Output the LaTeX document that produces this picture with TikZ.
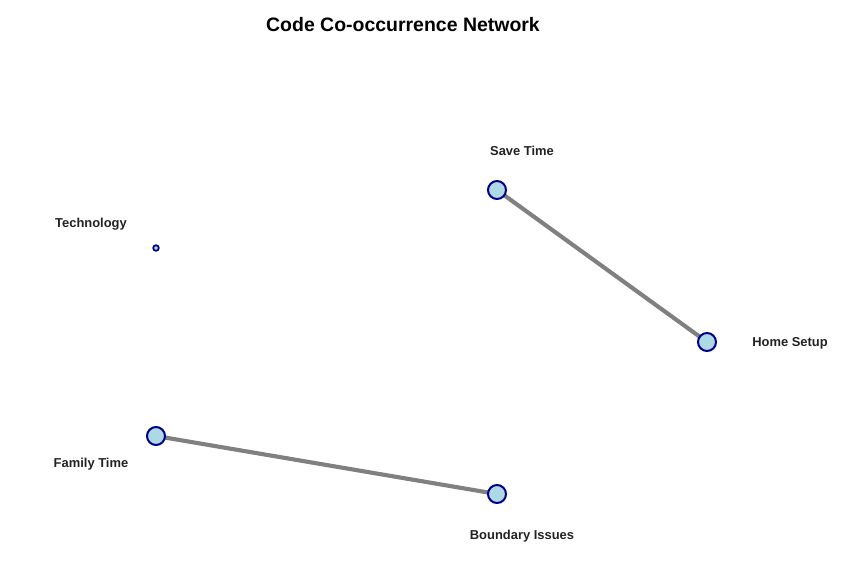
\documentclass[tikz,border=0pt]{standalone}
\usepackage{fontspec}
\setmainfont{Liberation Sans}
\usetikzlibrary{backgrounds}
\definecolor{nodefill}{HTML}{ADD8E6}
\definecolor{nodeline}{HTML}{00008B}
\definecolor{edgecol}{HTML}{808080}
\definecolor{labcol}{HTML}{222222}
\begin{document}
\begin{tikzpicture}[x=0.75pt,y=-0.75pt,
  vert/.style={circle,draw=nodeline,fill=nodefill,line width=1.5pt,minimum size=13.5pt,inner sep=0pt},
  smallvert/.style={circle,draw=nodeline,fill=nodefill,line width=1.3pt,minimum size=4.2pt,inner sep=0pt},
  lab/.style={font=\bfseries\fontsize{9.7}{11}\selectfont,text=labcol,inner sep=0pt},
  edge/.style={draw=edgecol,line width=3.1pt}]
\useasboundingbox (0,0) rectangle (852,583);
\node[font=\bfseries\fontsize{14.6}{17}\selectfont,inner sep=0pt] (title) at (403,25) {Code Co-occurrence Network};
\node[vert] (save) at (497,190) {};
\node[vert] (home) at (707,342) {};
\node[vert] (family) at (156,436) {};
\node[vert] (boundary) at (497,494) {};
\node[smallvert] (tech) at (156,248) {};
\begin{scope}[on background layer]
\draw[edge] (save.center) -- (home.center);
\draw[edge] (family.center) -- (boundary.center);
\end{scope}
\node[lab] (lsave) at (522,151) {Save Time};
\node[lab] (lhome) at (790,343.5) {Home Setup};
\node[lab] (ltech) at (91,224.5) {Technology};
\node[lab] (lfamily) at (91,464.5) {Family Time};
\node[lab] (lboundary) at (522,536.5) {Boundary Issues};
\end{tikzpicture}
\end{document}
